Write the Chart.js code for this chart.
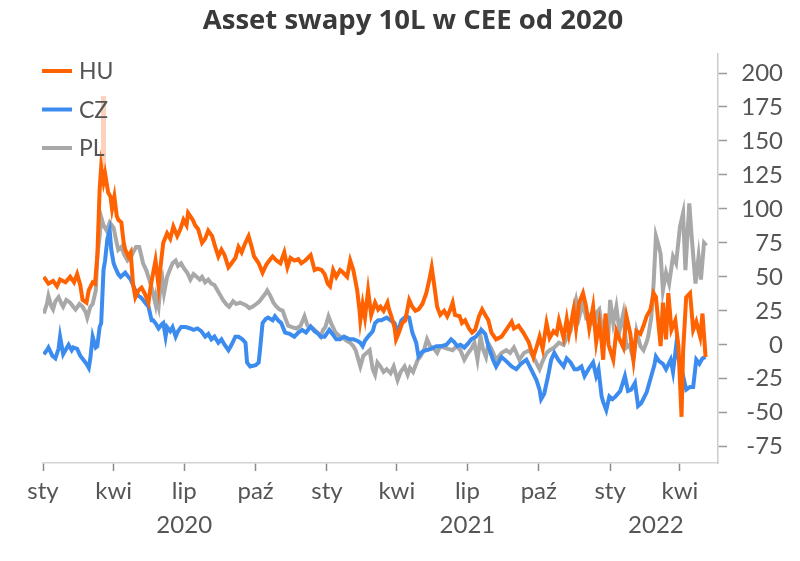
<!DOCTYPE html>
<html><head><meta charset="utf-8">
<script src="https://cdn.jsdelivr.net/npm/chart.js@4/dist/chart.umd.min.js"></script>
<style>html,body{margin:0;padding:0;background:#fff}</style>
</head><body>
<canvas id="c" width="800" height="561"></canvas>
<script>
// Day offsets are counted from 1 January 2020.
const huDays = [1,7,13,18,22,29,35,40,44,48,51,56,59,64,67,70,73,75,78,80,84,87,89,92,95,97,101,104,106,110,113,116,119,123,127,131,136,138,141,145,149,151,155,160,164,168,173,177,181,185,187,193,196,200,205,209,213,218,222,226,230,234,239,243,248,252,256,260,265,269,272,278,283,287,289,293,296,301,306,311,315,319,324,329,333,338,345,350,354,359,363,367,370,374,378,383,387,392,396,400,405,408,409,412,415,419,423,428,432,435,439,444,446,449,453,455,458,463,467,472,476,480,484,489,494,498,501,504,508,512,517,521,525,528,531,537,540,544,549,553,557,562,566,570,574,578,584,591,597,604,607,613,619,626,632,636,640,644,649,653,658,662,665,671,675,678,684,687,691,696,700,704,709,713,717,720,722,725,729,735,739,744,748,752,757,761,765,770,774,778,783,787,790,796,799,803,806,810,815,819,823,825,829,834,838,842,847,850,854];
const huValues = [50,45,47,43,48,46,50,46,52,44,33,31,40,46,45,65,114,131,120,126,112,109,100,109,95,92,90,75,70,65,68,45,35,40,42,38,31,40,50,62,43,55,75,82,78,87,80,85,92,88,97,92,88,85,75,78,84,80,72,65,70,66,57,60,64,72,68,74,80,72,65,60,53,58,60,63,65,62,60,68,57,64,62,63,60,62,66,55,56,55,52,45,43,55,50,55,53,50,62,55,40,25,18,30,20,40,22,31,26,28,25,31,26,21,13,4,8,16,18,33,28,25,26,30,38,48,57,45,28,22,25,21,26,31,22,21,16,18,12,9,11,21,26,22,18,9,4,6,11,17,12,14,9,2,-9,-2,6,-3,16,5,10,8,18,5,19,8,26,12,31,38,28,12,28,2,16,2,-11,23,0,-11,10,3,-2,21,8,-11,10,8,14,21,26,38,35,-1,31,4,38,11,18,-1,-53,-5,35,38,11,17,6,23,-9];

const czDays = [1,5,7,12,16,20,22,26,30,33,37,39,44,48,52,56,59,61,64,68,70,73,75,78,80,83,86,88,91,93,97,100,104,106,110,113,116,119,123,126,129,133,136,140,142,146,149,153,155,158,160,164,167,171,174,178,184,190,194,199,204,209,213,217,221,226,230,234,239,243,248,252,257,261,263,267,274,278,280,283,287,290,296,299,303,307,312,318,324,329,334,339,345,350,355,358,363,369,373,378,383,388,395,400,405,409,412,415,419,425,428,432,436,443,448,453,457,462,468,472,476,481,484,489,494,500,507,513,520,526,530,534,538,543,548,552,558,565,570,574,577,580,584,591,597,604,610,616,623,629,636,640,642,646,651,655,659,664,671,675,680,685,689,694,698,703,709,713,716,720,722,726,730,734,738,744,750,754,758,763,767,771,778,784,788,790,794,799,803,809,812,816,820,825,829,834,838,842,846,850,854];
const czValues = [-7,-4,-2,-8,-10,-3,6,-7,-3,0,-4,-2,-3,-8,-11,-14,-17,-10,6,-2,-1,13,16,55,62,78,84,70,60,57,52,50,52,53,50,48,44,40,36,35,33,30,28,18,18,15,12,15,16,6,13,10,13,6,10,13,13,12,11,12,10,6,8,4,6,1.5,4,0,-4,0,6,6,4,1.5,-13,-16,-15,-13,-2,16,19,20,18,21,18,16,9,8,6,9,11,9,13.5,10,8,6,6,11,8,4,4,6,4,4,3,1.5,-1,3,6,10,16,18,18,20,18,16,9,18,21,20,9,1.5,-8.6,-5,-4,-3,-1,-1,0,4,2,-1,0,-2,1,4,6,11,8,-1,-6,-11,-16,-9,-12,-16,-18,-14,-11,-18,-26,-33,-40,-36,-23,-11,-6,-11,-16,-10,-13,-18,-18,-16,-23,-18,-13,-23,-18,-38,-42,-48,-38,-40,-38,-34,-23,-34,-33,-28,-45,-43,-35,-23,-15,-8.6,-12,-14,-18,-11,-20,-1,-12,-23,-33,-31,-31,-11,-14,-10,-9];

const plDays = [1,5,7,11,13,16,20,24,26,30,35,39,42,47,51,55,57,61,64,68,70,73,75,78,82,86,91,95,97,101,105,109,113,116,120,124,127,129,133,137,141,145,146,149,151,154,156,160,164,167,171,174,178,182,186,190,194,198,202,205,209,213,217,221,225,229,232,236,240,245,249,254,258,262,266,270,275,279,283,287,289,293,297,301,305,309,312,316,321,327,332,337,341,345,348,354,358,361,364,368,372,377,381,383,387,391,396,400,403,406,409,413,417,421,425,428,431,435,439,443,448,452,457,461,466,470,473,477,483,486,491,495,499,504,508,512,517,522,528,533,538,543,548,552,556,560,564,567,571,574,578,584,591,597,602,607,614,620,627,633,640,644,649,653,659,665,671,675,680,684,687,691,696,700,705,711,714,717,721,725,729,731,735,739,743,748,752,756,761,765,770,774,778,780,784,787,790,793,796,799,803,807,812,816,821,825,828,833,836,841,845,848,852,855];
const plValues = [23,30,36,28,26,32,35,30,28,33,31,28,26,30,28,24,20,28,30,40,65,80,94,88,84,90,86,75,70,72,66,62,64,68,72,72,65,60,55,48,40,30,35,28,40,48,38,50,56,60,62,58,60,56,53,48,52,50,48,50,46,48,45,44,40,36,33,30,28,32,30,31,30,29,27,28,30,32,35,38,40,36,31,28,26,25,20,14,13,12,14,21,14,13,12,9,6,11,13,21,15,9,7,6,5,3,1.5,-1,-4,-10,-16,-8,-6,-4,-18,-22,-13,-16,-20,-18,-21,-16,-26,-20,-16,-22,-17,-20,-11,-9,-4,4,-1,-3,-6,-1,-2,-3,-4,-1,-4,-11,-6,-3,1.5,-11,6,-3,-9,1,-3,-11,-6,-4,-6,-2,-11,-6,-4,-10,-18,-12,-6,-4,-2,1.5,0,5,10,26,33,20,31,20,22,14,24,26,10,18,11,33,16,28,10,23,-2,0,-11,10,-1,-4,2,6,20,45,80,74,67,40,53,45,65,60,87,97,55,104,80,45,65,48,75,73];

// A pale, very short HU spike in March 2020.
const huSpikeDays = [78,78];
const huSpikeValues = [131,183];

const seriesNames = ['HU','CZ','PL'];
const monthTickDays = [0,91,182,274,366,456,547,639,731,821];
const monthTickLabels = ['sty','kwi','lip','paź','sty','kwi','lip','paź','sty','kwi'];
const yearLabels = ['2020','2021','2022'];
const yearLabelDays = [182,547,790];
const yTickValues = [-75,-50,-25,0,25,50,75,100,125,150,175,200];

const toPoints = (days, vals) => days.map((d, i) => ({x: d, y: vals[i]}));
const FONT = 'Lato';
const TXT = '#555555';

const insideLegend = {
  id: 'insideLegend',
  afterDraw(chart) {
    const ctx = chart.ctx;
    ctx.save();
    ctx.font = '23px ' + FONT;
    ctx.textBaseline = 'middle';
    ctx.textAlign = 'left';
    seriesNames.forEach((name, i) => {
      const ds = chart.data.datasets[i];
      const y = 71 + i * 38.5;
      ctx.strokeStyle = ds.borderColor;
      ctx.lineWidth = 4;
      ctx.lineCap = 'butt';
      ctx.beginPath(); ctx.moveTo(42, y); ctx.lineTo(72, y); ctx.stroke();
      ctx.fillStyle = TXT;
      ctx.fillText(name, 79, y + 1);
    });
    ctx.restore();
  }
};

const yearRow = {
  id: 'yearRow',
  afterDraw(chart) {
    const ctx = chart.ctx, xs = chart.scales.x;
    ctx.save();
    ctx.font = '24px ' + FONT;
    ctx.fillStyle = TXT;
    ctx.textAlign = 'center';
    ctx.textBaseline = 'middle';
    yearLabels.forEach((t, i) => ctx.fillText(t, xs.getPixelForValue(yearLabelDays[i]), 525));
    ctx.restore();
  }
};

new Chart(document.getElementById('c'), {
  type: 'line',
  data: {
    datasets: [
      {label: 'HU', data: toPoints(huDays, huValues), borderColor: '#FF6200', borderWidth: 4, pointRadius: 0, tension: 0},
      {label: 'CZ', data: toPoints(czDays, czValues), borderColor: '#3C8CF0', borderWidth: 4, pointRadius: 0, tension: 0},
      {label: 'PL', data: toPoints(plDays, plValues), borderColor: '#A8A8A8', borderWidth: 4, pointRadius: 0, tension: 0},
      {label: 'HU max', data: toPoints(huSpikeDays, huSpikeValues), borderColor: '#FCD2BC', borderWidth: 5, borderCapStyle: 'butt', pointRadius: 0}
    ]
  },
  options: {
    responsive: false,
    animation: false,
    layout: {padding: {left: 43, right: 17, top: 0, bottom: 0}},
    plugins: {
      legend: {display: false},
      tooltip: {enabled: false},
      title: {
        display: true,
        text: 'Asset swapy 10L w CEE od 2020',
        color: '#3a3a3a',
        font: {family: 'Open Sans', size: 27.5, weight: 'bold', lineHeight: 1.2},
        padding: {top: 5, bottom: 16}
      }
    },
    scales: {
      x: {
        type: 'linear', min: 0, max: 870,
        afterBuildTicks: s => { s.ticks = monthTickDays.map(v => ({value: v})); },
        afterFit: s => { s.height = 98; },
        ticks: {
          autoSkip: false, maxRotation: 0, minRotation: 0,
          callback: (v, i) => monthTickLabels[i],
          font: {family: FONT, size: 24}, color: TXT, padding: 6
        },
        grid: {drawOnChartArea: false, drawTicks: true, tickLength: 8, tickColor: '#8a8a8a', tickWidth: 1.5},
        border: {display: true, color: '#d4d4d4', width: 1.5}
      },
      y: {
        position: 'right', min: -87, max: 214,
        afterBuildTicks: s => { s.ticks = yTickValues.map(v => ({value: v})); },
        afterFit: s => { s.width = 65; },
        ticks: {crossAlign: 'far', font: {family: FONT, size: 24}, color: TXT, padding: 8},
        grid: {drawOnChartArea: false, drawTicks: true, tickLength: 9, tickColor: '#9a9a9a', tickWidth: 1.5},
        border: {display: true, color: '#cccccc', width: 1.5}
      }
    }
  },
  plugins: [insideLegend, yearRow]
});
</script>
</body></html>
